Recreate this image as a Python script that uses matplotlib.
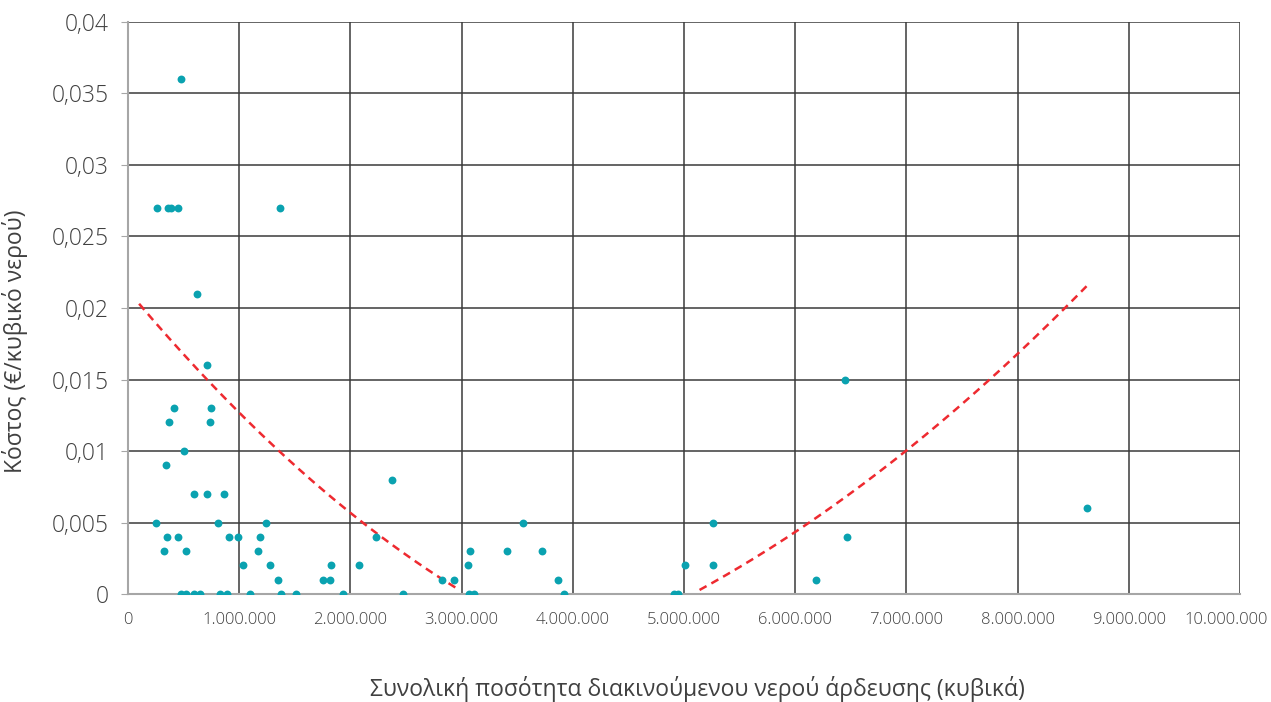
import numpy as np
import matplotlib.pyplot as plt
from matplotlib.ticker import FuncFormatter, MultipleLocator

# Ποσότητα νερού (εκατ. κυβικά) και κόστος (€/κυβικό) ανά σημείο
ποσοτητα = np.array([
    0.48, 0.26, 0.36, 0.39, 0.45, 1.37, 0.62,
    0.71, 0.41, 0.75, 0.37, 0.74, 0.50, 0.345,
    0.59, 0.71, 0.86, 0.255, 0.81, 1.24,
    0.355, 0.45, 0.91, 0.99, 1.19, 0.32, 0.52, 1.17,
    1.03, 1.28, 1.35,
    0.48, 0.52, 0.59, 0.65, 0.83, 0.89, 1.10, 1.38, 1.51,
    1.75, 1.82, 1.83, 2.08, 1.93, 2.37, 2.23, 2.47,
    2.82, 2.93, 3.06, 3.08, 3.07, 3.11, 3.55, 3.41, 3.72,
    3.87, 3.92, 4.91, 4.95, 5.01, 5.26, 5.26, 6.19,
    6.45, 6.47, 8.62,
]) * 1e6
κοστος = np.array([
    0.036, 0.027, 0.027, 0.027, 0.027, 0.027, 0.021,
    0.016, 0.013, 0.013, 0.012, 0.012, 0.010, 0.009,
    0.007, 0.007, 0.007, 0.005, 0.005, 0.005,
    0.004, 0.004, 0.004, 0.004, 0.004, 0.003, 0.003, 0.003,
    0.002, 0.002, 0.001,
    0.0, 0.0, 0.0, 0.0, 0.0, 0.0, 0.0, 0.0, 0.0,
    0.001, 0.001, 0.002, 0.002, 0.0, 0.008, 0.004, 0.0,
    0.001, 0.001, 0.002, 0.003, 0.0, 0.0, 0.005, 0.003, 0.003,
    0.001, 0.0, 0.0, 0.0, 0.002, 0.005, 0.002, 0.001,
    0.015, 0.004, 0.006,
])

# Γραμμή τάσης (δύο κλάδοι πάνω από το μηδέν)
τάση_αρ_x = np.array([0.10, 0.37, 0.72, 1.01, 1.32, 1.55, 1.72, 2.02, 2.45, 2.82, 2.98]) * 1e6
τάση_αρ_y = np.array([0.0203, 0.0178, 0.0150, 0.0127, 0.0102, 0.0087, 0.0075, 0.0054, 0.0031, 0.00105, 0.0003])
τάση_δε_x = np.array([5.14, 5.39, 5.81, 5.87, 6.11, 6.35, 7.00, 7.72, 7.95, 8.62]) * 1e6
τάση_δε_y = np.array([0.0003, 0.00145, 0.0032, 0.00366, 0.0050, 0.00622, 0.0100, 0.0149, 0.0164, 0.0215])

plt.rcParams['font.family'] = ['Open Sans', 'DejaVu Sans']
plt.rcParams['font.weight'] = 'light'
ΧΡΩΜΑ_ΚΕΙΜΕΝΟΥ = '#404040'
ΧΜΑΧ = 10e6


def μορφη_x(v, p):
    # η τελευταία ετικέτα γράφεται χωριστά, πιο αριστερά
    if v >= ΧΜΑΧ:
        return ''
    return f'{v:,.0f}'.replace(',', '.')


fig = plt.figure(figsize=(12.71, 7.02), dpi=100)
ax = fig.add_axes([0.1007, 0.1538, 0.8749, 0.8149])

ax.scatter(ποσοτητα, κοστος, s=32, color='#0aa2b0', zorder=3, linewidths=0)

for tx, ty in [(τάση_αρ_x, τάση_αρ_y), (τάση_δε_x, τάση_δε_y)]:
    coef = np.polyfit(tx / 1e6, ty, 2)
    xx = np.linspace(tx[0], tx[-1], 200)
    yy = np.clip(np.polyval(coef, xx / 1e6), 0, None)
    ax.plot(xx, yy, color='#ee2a30', linestyle=(0, (3.2, 2.2)), linewidth=1.8,
            zorder=2, clip_on=False)

ax.set_xlim(0, ΧΜΑΧ)
ax.set_ylim(0, 0.04)
ax.xaxis.set_major_locator(MultipleLocator(1e6))
ax.yaxis.set_major_locator(MultipleLocator(0.005))
ax.xaxis.set_major_formatter(FuncFormatter(μορφη_x))
ax.yaxis.set_major_formatter(FuncFormatter(lambda v, p: ('%g' % round(v, 4)).replace('.', ',')))

ax.grid(True, color='#3a3a3a', linewidth=1.1)
ax.set_axisbelow(True)
for side in ['top', 'right']:
    ax.spines[side].set_visible(False)
for side in ['left', 'bottom']:
    ax.spines[side].set_color('#a6a6a6')
    ax.spines[side].set_linewidth(1.5)
ax.tick_params(axis='y', length=5, color='#a6a6a6', labelsize=16.5, pad=9,
               labelcolor=ΧΡΩΜΑ_ΚΕΙΜΕΝΟΥ)
ax.tick_params(axis='x', length=0, labelsize=12, pad=13, labelcolor=ΧΡΩΜΑ_ΚΕΙΜΕΝΟΥ)

ax.annotate(f'{ΧΜΑΧ:,.0f}'.replace(',', '.'), xy=(ΧΜΑΧ, 0),
            xycoords=('data', 'axes fraction'), xytext=(-10, -13),
            textcoords='offset points', ha='center', va='top',
            fontsize=12, color=ΧΡΩΜΑ_ΚΕΙΜΕΝΟΥ)

ax.set_xlabel('Συνολική ποσότητα διακινούμενου νερού άρδευσης (κυβικά)',
              fontsize=16.5, color=ΧΡΩΜΑ_ΚΕΙΜΕΝΟΥ)
ax.set_ylabel('Κόστος (€/κυβικό νερού)', fontsize=16.5, color=ΧΡΩΜΑ_ΚΕΙΜΕΝΟΥ)
ax.xaxis.set_label_coords(0.512, -0.143)
ax.yaxis.set_label_coords(-0.09, 0.442)

fig.savefig('out.png', dpi=100)
